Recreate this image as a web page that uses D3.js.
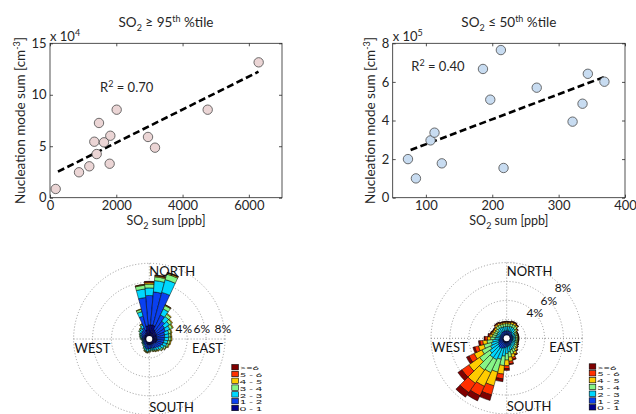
<!DOCTYPE html>
<html><head><meta charset="utf-8">
<script src="https://cdn.jsdelivr.net/npm/d3@7"></script>
<style>body{margin:0;background:#fff}svg{display:block;font-family:Lato,sans-serif}</style>
</head><body><svg id="c" width="636" height="414"></svg>
<script>
// ---------- DATA ----------
const leftSO2 = [172, 875, 1186, 1408, 1337, 1478, 1629, 1820, 1800, 2012, 2957, 3168, 4758, 6296];
const leftNuc = [8500, 24700, 30500, 42400, 54400, 72600, 53800, 60200, 33000, 85500, 59000, 48600, 85500, 131500];
const leftFitX = [240, 6290];
const leftFitY = [25300, 122400];
const leftR2 = "0.70";
const leftXTicks = [0, 2000, 4000, 6000];
const leftYTicks = [0, 50000, 100000, 150000];

const rightSO2 = [73, 85, 107, 113, 124, 186, 197, 213, 217, 267, 321, 336, 344, 369];
const rightNuc = [200000, 100000, 297000, 337000, 178000, 667000, 508000, 765000, 154000, 570000, 394000, 487000, 642000, 601000];
const rightFitX = [77, 370];
const rightFitY = [247000, 627000];
const rightR2 = "0.40";
const rightXTicks = [100, 200, 300, 400];
const rightYTicks = [0, 200000, 400000, 600000, 800000];

const roseDirs = d3.range(0, 360, 10);
const roseRings = [2, 4, 6, 8];
const speedLabels = ["0 - 1", "1 - 2", "2 - 3", "3 - 4", "4 - 5", "5 - 6", ">=6"];
// left rose: % frequency per direction (0..350 deg), one array per speed bin
const leftRose = [
 [1.5,1.5,1.5,1.1,1.0,0.9,0.9,0.8,0.8,0.8,0.8,0.8,0.75,0.7,0.65,0.6,0.6,0.6,0.6,0.6,0.6,0.55,0.5,0.45,0.45,0.4,0.4,0.45,0.5,0.5,0.55,0.6,0.6,0.7,1.0,1.4],
 [3.1,3.5,3.6,1.7,1.3,1.1,1.0,0.9,0.85,0.8,0.75,0.7,0.65,0.6,0.5,0.5,0.45,0.4,0.45,0.5,0.45,0.4,0.3,0.3,0.3,0.25,0.25,0.3,0.3,0.35,0.4,0.45,0.5,0.6,1.5,3.0],
 [0.8,1.2,1.4,0.7,0.6,0.6,0.5,0.45,0.45,0.45,0.4,0.4,0.35,0.3,0.3,0.25,0.2,0.2,0.2,0.25,0.2,0.15,0.15,0.1,0.1,0.1,0.1,0.1,0.15,0.15,0.15,0.25,0.25,0.3,0.5,0.9],
 [0.4,0.4,0.6,0.4,0.3,0.3,0.3,0.25,0.2,0.25,0.25,0.2,0.2,0.15,0.1,0.1,0.1,0.1,0.1,0.1,0.1,0.1,0.05,0.05,0.05,0.05,0.05,0.05,0.05,0.1,0.1,0.1,0.1,0.15,0.25,0.4],
 [0.15,0.1,0.12,0.08,0.1,0.1,0.1,0.1,0.1,0.1,0.1,0.1,0.05,0.05,0.05,0.05,0.05,0,0.05,0.05,0.05,0,0,0,0,0,0,0,0,0,0,0,0.05,0.05,0.05,0.07],
 [0.1,0.07,0.05,0.02,0,0,0,0,0,0,0,0,0,0,0,0,0,0,0,0,0,0,0,0,0,0,0,0,0,0,0,0,0,0,0,0.03],
 [0.05,0.03,0.03,0,0,0,0,0,0,0,0,0,0,0,0,0,0,0,0,0,0,0,0,0,0,0,0,0,0,0,0,0,0,0,0,0]
];
const rightRose = [
 [0.4,0.4,0.4,0.4,0.4,0.35,0.35,0.35,0.35,0.35,0.35,0.35,0.35,0.35,0.35,0.4,0.4,0.4,0.4,0.45,0.5,0.5,0.5,0.5,0.45,0.4,0.4,0.35,0.35,0.35,0.35,0.35,0.4,0.4,0.4,0.4],
 [0.4,0.4,0.4,0.4,0.4,0.35,0.3,0.3,0.3,0.3,0.3,0.3,0.3,0.35,0.35,0.4,0.4,0.45,0.5,0.55,0.6,0.7,0.7,0.6,0.55,0.5,0.45,0.4,0.35,0.35,0.35,0.35,0.4,0.4,0.4,0.4],
 [0.45,0.45,0.5,0.5,0.45,0.35,0.3,0.3,0.3,0.3,0.3,0.3,0.35,0.35,0.4,0.45,0.5,0.6,0.7,0.9,1.2,1.3,1.3,1.1,0.9,0.8,0.65,0.5,0.45,0.4,0.4,0.4,0.5,0.5,0.45,0.45],
 [0.3,0.3,0.3,0.3,0.3,0.25,0.2,0.2,0.2,0.2,0.2,0.2,0.2,0.25,0.3,0.35,0.45,0.55,0.7,1.0,1.4,1.5,1.6,1.3,1.0,0.8,0.6,0.45,0.4,0.35,0.3,0.3,0.3,0.3,0.3,0.3],
 [0.15,0.15,0.18,0.18,0.15,0.12,0.1,0.1,0.1,0.1,0.1,0.1,0.12,0.12,0.2,0.25,0.35,0.45,0.6,0.9,1.5,1.6,1.7,1.4,0.9,0.6,0.45,0.35,0.25,0.2,0.2,0.2,0.18,0.18,0.15,0.15],
 [0.07,0.07,0.08,0.08,0.07,0.05,0.03,0.03,0.03,0.03,0.03,0.03,0.05,0.05,0.07,0.1,0.2,0.25,0.3,0.5,1.0,1.1,1.2,0.9,0.6,0.4,0.3,0.25,0.13,0.1,0.07,0.07,0.08,0.08,0.07,0.07],
 [0.03,0.03,0.04,0.04,0.03,0.03,0.02,0.02,0.02,0.02,0.02,0.02,0.03,0.03,0.03,0.05,0.1,0.1,0.2,0.3,0.6,0.6,0.6,0.5,0.3,0.2,0.15,0.1,0.07,0.05,0.03,0.03,0.04,0.04,0.03,0.03]
];
const speedColors = ["#00008F", "#0A40F0", "#00D8FF", "#86F586", "#FFCC00", "#FF3000", "#800000"];

// ---------- DRAW ----------
const svg = d3.select("#c");
svg.append("rect").attr("width", 636).attr("height", 414).attr("fill", "#fff");
const INK = "#262626";
const FS = 13;

function scatter(o) {
  const x = d3.scaleLinear().domain(o.xDomain).range([o.x0, o.x1]);
  const y = d3.scaleLinear().domain(o.yDomain).range([o.y1, o.y0]);
  const g = svg.append("g").attr("font-size", FS).attr("fill", INK);

  const ax = (sel) => sel.call(s => s.select(".domain").remove())
    .call(s => s.selectAll("line").attr("stroke", INK).attr("stroke-width", 0.8))
    .call(s => s.selectAll("text").attr("fill", INK).attr("font-family", "Lato,sans-serif").attr("font-size", FS));

  g.append("g").attr("transform", `translate(0,${o.y1})`)
    .call(d3.axisBottom(x).tickValues(o.xTicks).tickSize(-3).tickPadding(3).tickFormat(d3.format("d"))).call(ax);
  g.append("g").attr("transform", `translate(0,${o.y0})`)
    .call(d3.axisTop(x).tickValues(o.xTicks).tickSize(-3).tickFormat("")).call(ax);
  g.append("g").attr("transform", `translate(${o.x0},0)`)
    .call(d3.axisLeft(y).tickValues(o.yTicks).tickSize(-3).tickPadding(3.5).tickFormat(d => d / o.scale)).call(ax);
  g.append("g").attr("transform", `translate(${o.x1},0)`)
    .call(d3.axisRight(y).tickValues(o.yTicks).tickSize(-3).tickFormat("")).call(ax);

  g.append("rect").attr("x", o.x0).attr("y", o.y0).attr("width", o.x1 - o.x0).attr("height", o.y1 - o.y0)
    .attr("fill", "none").attr("stroke", INK).attr("stroke-width", 0.8);

  // fit line
  g.append("line")
    .attr("x1", x(o.fitX[0])).attr("y1", y(o.fitY[0]))
    .attr("x2", x(o.fitX[1])).attr("y2", y(o.fitY[1]))
    .attr("stroke", "#000").attr("stroke-width", 2.6).attr("stroke-dasharray", "7,3.5");

  // points
  g.selectAll("circle.pt").data(o.xs).join("circle").attr("class", "pt")
    .attr("cx", (d) => x(d)).attr("cy", (d, i) => y(o.ys[i])).attr("r", 4.7)
    .attr("fill", o.fill).attr("stroke", "#4a4a4a").attr("stroke-width", 0.8);

  // R^2
  const r2 = g.append("text").attr("x", x(o.r2At[0])).attr("y", y(o.r2At[1]));
  r2.append("tspan").text("R");
  r2.append("tspan").attr("dy", -5).attr("font-size", 9).text("2");
  r2.append("tspan").attr("dy", 5).text(" = " + o.r2);

  // exponent
  const ex = g.append("text").attr("x", o.x0).attr("y", o.y0 - 2.5);
  ex.append("tspan").text("x 10");
  ex.append("tspan").attr("dy", -5).attr("font-size", 9).text(o.exp);

  // title
  const cx = (o.x0 + o.x1) / 2;
  const t = g.append("text").attr("x", cx).attr("y", 27).attr("text-anchor", "middle").attr("font-size", 13.5);
  t.append("tspan").text("SO");
  t.append("tspan").attr("dy", 3.5).attr("font-size", 9).text("2");
  t.append("tspan").attr("dy", -3.5).text(o.rel + o.pct);
  t.append("tspan").attr("dy", -5).attr("font-size", 9).text("th");
  t.append("tspan").attr("dy", 5).text(" %tile");

  // x label
  const xl = g.append("text").attr("x", cx).attr("y", 225).attr("text-anchor", "middle").attr("font-size", 12.5);
  xl.append("tspan").text("SO");
  xl.append("tspan").attr("dy", 3.5).attr("font-size", 9).text("2");
  xl.append("tspan").attr("dy", -3.5).text(" sum [ppb]");

  // y label
  const yl = g.append("text").attr("transform", `translate(${o.yLabX},${(o.y0 + o.y1) / 2}) rotate(-90)`)
    .attr("text-anchor", "middle").attr("font-size", 13.5);
  yl.append("tspan").text("Nucleation mode sum [cm");
  yl.append("tspan").attr("dy", -5).attr("font-size", 9).text("-3");
  yl.append("tspan").attr("dy", 5).text("]");
}

scatter({x0: 50, x1: 282, y0: 43.3, y1: 197.7, xDomain: [0, 7000], yDomain: [0, 150000],
  xTicks: leftXTicks, yTicks: leftYTicks, scale: 1e4, exp: "4",
  xs: leftSO2, ys: leftNuc, fitX: leftFitX, fitY: leftFitY, r2: leftR2, r2At: [1510, 103000],
  fill: "#EBD5D5", rel: " \u2265 ", pct: "95", yLabX: 25});
scatter({x0: 392.7, x1: 625, y0: 43.3, y1: 197.7, xDomain: [50, 400], yDomain: [0, 800000],
  xTicks: rightXTicks, yTicks: rightYTicks, scale: 1e5, exp: "5",
  xs: rightSO2, ys: rightNuc, fitX: rightFitX, fitY: rightFitY, r2: rightR2, r2At: [78, 656000],
  fill: "#C8DCF1", rel: " \u2264 ", pct: "50", yLabX: 375});

function rose(cx, cy, bins, pctPos) {
  const r = d3.scaleLinear().domain([0, 8]).range([0, 75.7]);
  const R = r(8);
  const g = svg.append("g").attr("transform", `translate(${cx},${cy})`);
  const dot = {fill: "none", stroke: "#8c8c8c", "stroke-width": 0.9, "stroke-dasharray": "1,2"};
  roseRings.forEach(p => {
    const c = g.append("circle").attr("r", r(p));
    Object.entries(dot).forEach(([k, v]) => c.attr(k, v));
  });
  [[-R, 0, R, 0], [0, -R, 0, R]].forEach(l => {
    const ln = g.append("line").attr("x1", l[0]).attr("y1", l[1]).attr("x2", l[2]).attr("y2", l[3]);
    Object.entries(dot).forEach(([k, v]) => ln.attr(k, v));
  });
  const arc = d3.arc();
  const rad = Math.PI / 180;
  roseDirs.forEach((dir, i) => {
    let cum = 0;
    bins.forEach((arr, b) => {
      const v = arr[i];
      if (!(v > 0)) return;
      g.append("path")
        .attr("d", arc({innerRadius: r(cum), outerRadius: r(cum + v), startAngle: (dir - 5) * rad, endAngle: (dir + 5) * rad}))
        .attr("fill", speedColors[b]).attr("stroke", "#000").attr("stroke-width", 0.5);
      cum += v;
    });
  });
  g.append("circle").attr("r", 3).attr("fill", "#fff");

  const tg = g.append("g").attr("font-size", 13).attr("fill", "#111");
  tg.append("text").attr("x", 0).attr("y", -R + 13).text("NORTH");
  tg.append("text").attr("x", 0).attr("y", R - 3).text("SOUTH");
  tg.append("text").attr("x", -R + 1).attr("y", 14).text("WEST");
  tg.append("text").attr("x", R - 2).attr("y", 14).attr("text-anchor", "end").text("EAST");
  [4, 6, 8].forEach((p, k) => {
    const pos = pctPos(r(p), k);
    tg.append("text").attr("x", pos[0]).attr("y", pos[1]).attr("text-anchor", "middle").attr("font-size", 12).text(p + "%");
  });

  // legend (squashed text like the reference)
  const lg = g.append("g").attr("transform", `translate(82.5,25.5)`).attr("font-size", 11).attr("fill", "#111");
  speedLabels.slice().reverse().forEach((lab, k) => {
    const b = speedLabels.length - 1 - k;
    lg.append("rect").attr("x", 0).attr("y", k * 6.8).attr("width", 6.6).attr("height", 5.4)
      .attr("fill", speedColors[b]).attr("stroke", "#000").attr("stroke-width", 0.6);
    lg.append("text").attr("transform", `translate(8,${k * 6.8 + 5.8}) scale(1,0.52)`).text(lab);
  });
}

const leftPct = [[34.5, -6], [52.5, -6], [73.5, -6]];
rose(149.3, 339, leftRose, (rr, k) => leftPct[k]);
rose(506.7, 338.3, rightRose, (rr, k) => [rr * Math.cos(42 * Math.PI / 180), -rr * Math.sin(42 * Math.PI / 180) + 4.5]);
</script></body></html>
